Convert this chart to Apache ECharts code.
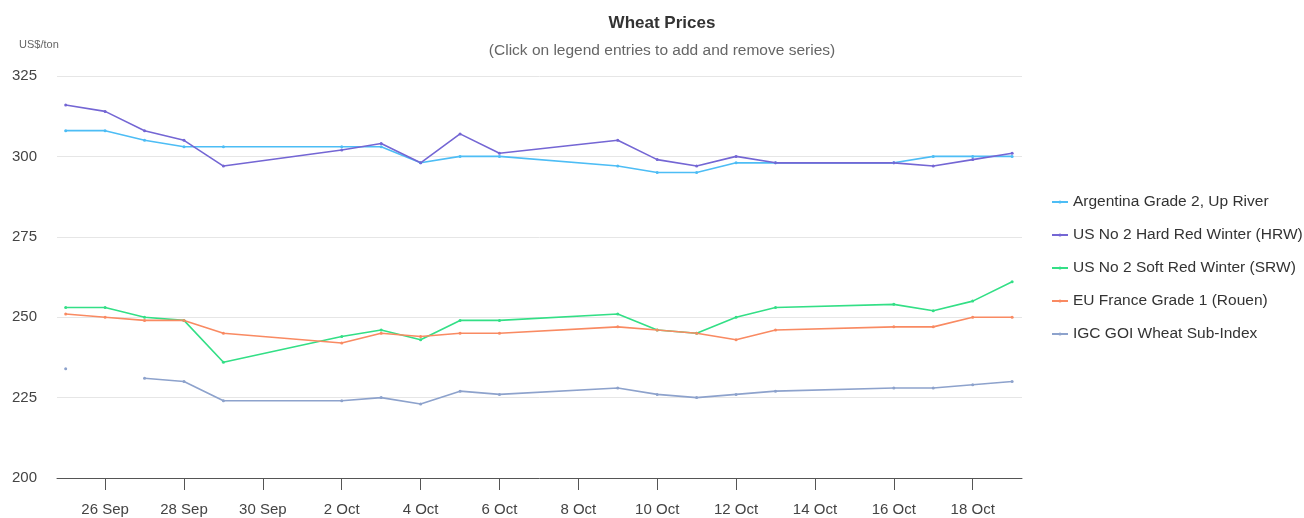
<!DOCTYPE html>
<html>
<head>
<meta charset="utf-8">
<title>Wheat Prices</title>
<script src="https://cdn.jsdelivr.net/npm/echarts@6/dist/echarts.min.js"></script>
<style>
  html, body { margin: 0; padding: 0; background: #fff; }
  #chart { width: 1304px; height: 518px; }
</style>
</head>
<body>
<div id="chart"></div>
<script>
// trading days (weekdays), Sep/Oct 2017
var dates = ['2017-09-25', '2017-09-26', '2017-09-27', '2017-09-28', '2017-09-29',
             '2017-10-02', '2017-10-03', '2017-10-04', '2017-10-05', '2017-10-06',
             '2017-10-09', '2017-10-10', '2017-10-11', '2017-10-12', '2017-10-13',
             '2017-10-16', '2017-10-17', '2017-10-18', '2017-10-19'];

var argentina = [308, 308, 305, 303, 303, 303, 303, 298, 300, 300, 297, 295, 295, 298, 298, 298, 300, 300, 300];
var hrw       = [316, 314, 308, 305, 297, 302, 304, 298, 307, 301, 305, 299, 297, 300, 298, 298, 297, 299, 301];
var srw       = [253, 253, 250, 249, 236, 244, 246, 243, 249, 249, 251, 246, 245, 250, 253, 254, 252, 255, 261];
var euFrance  = [251, 250, 249, 249, 245, 242, 245, 244, 245, 245, 247, 246, 245, 243, 246, 247, 247, 250, 250];
var igc       = [234, null, 231, 230, 224, 224, 225, 223, 227, 226, 228, 226, 225, 226, 227, 228, 228, 229, 230];

// x tick labels (every 2nd day from 26 Sep)
var tickDates  = ['2017-09-26', '2017-09-28', '2017-09-30', '2017-10-02', '2017-10-04', '2017-10-06',
                  '2017-10-08', '2017-10-10', '2017-10-12', '2017-10-14', '2017-10-16', '2017-10-18'];
var tickLabels = ['26 Sep', '28 Sep', '30 Sep', '2 Oct', '4 Oct', '6 Oct',
                  '8 Oct', '10 Oct', '12 Oct', '14 Oct', '16 Oct', '18 Oct'];
var yTicks = [200, 225, 250, 275, 300, 325];

var DAY = 86400000;
var base = Date.parse(dates[0]);
function dayOf(d) { return Math.round((Date.parse(d) - base) / DAY); }

var tickDays = tickDates.map(dayOf);
var labelByDay = {};
tickDays.forEach(function (d, i) { labelByDay[d] = tickLabels[i]; });

function pairs(values) {
    return dates.map(function (d, i) { return [dayOf(d), values[i]]; });
}

var names  = ['Argentina Grade 2, Up River', 'US No 2 Hard Red Winter (HRW)', 'US No 2 Soft Red Winter (SRW)',
              'EU France Grade 1 (Rouen)', 'IGC GOI Wheat Sub-Index'];
var colors = ['#4dbdf5', '#7466d4', '#33df86', '#f98a62', '#8da2cc'];
var values = [argentina, hrw, srw, euFrance, igc];

var myChart = echarts.init(document.getElementById('chart'));

var option = {
    color: colors,
    animation: false,
    textStyle: { fontFamily: '"Liberation Sans", Arial, sans-serif' },
    title: {
        text: 'Wheat Prices',
        subtext: '(Click on legend entries to add and remove series)',
        left: 657,
        textAlign: 'center',
        top: 10,
        itemGap: 11,
        textStyle: { fontSize: 17, fontWeight: 'bold', color: '#333' },
        subtextStyle: { fontSize: 15.5, color: '#666' }
    },
    graphic: [{
        type: 'text',
        left: 19,
        top: 39,
        style: { text: 'US$/ton', fontSize: 11, fill: '#666', fontFamily: '"Liberation Sans", Arial, sans-serif' }
    }],
    legend: {
        orient: 'vertical',
        left: 1046,
        top: 188,
        itemWidth: 16,
        itemHeight: 4,
        itemGap: 15,
        textStyle: { fontSize: 15.5, color: '#333', lineHeight: 18 },
        data: names
    },
    grid: {
        left: 57,
        right: 282,
        top: 76,
        bottom: 40
    },
    xAxis: {
        type: 'value',
        min: -0.22,
        max: 24.25,
        axisLine: { lineStyle: { color: '#555', width: 1 } },
        axisTick: {
            customValues: tickDays,
            length: 12,
            lineStyle: { color: '#555' }
        },
        axisLabel: {
            customValues: tickDays,
            margin: 24,
            fontSize: 15,
            color: '#444',
            formatter: function (v) { return labelByDay[Math.round(v)] || ''; }
        },
        splitLine: { show: false }
    },
    yAxis: {
        type: 'value',
        min: yTicks[0],
        max: yTicks[yTicks.length - 1],
        interval: 25,
        axisLine: { show: false },
        axisTick: { show: false },
        axisLabel: { fontSize: 15, color: '#444', margin: 20 },
        splitLine: { lineStyle: { color: '#e6e6e6' } }
    },
    series: names.map(function (n, i) {
        return {
            name: n,
            type: 'line',
            data: pairs(values[i]),
            symbol: 'circle',
            symbolSize: 3,
            showSymbol: true,
            connectNulls: false,
            lineStyle: { width: 1.6 }
        };
    })
};

myChart.setOption(option);
</script>
</body>
</html>
